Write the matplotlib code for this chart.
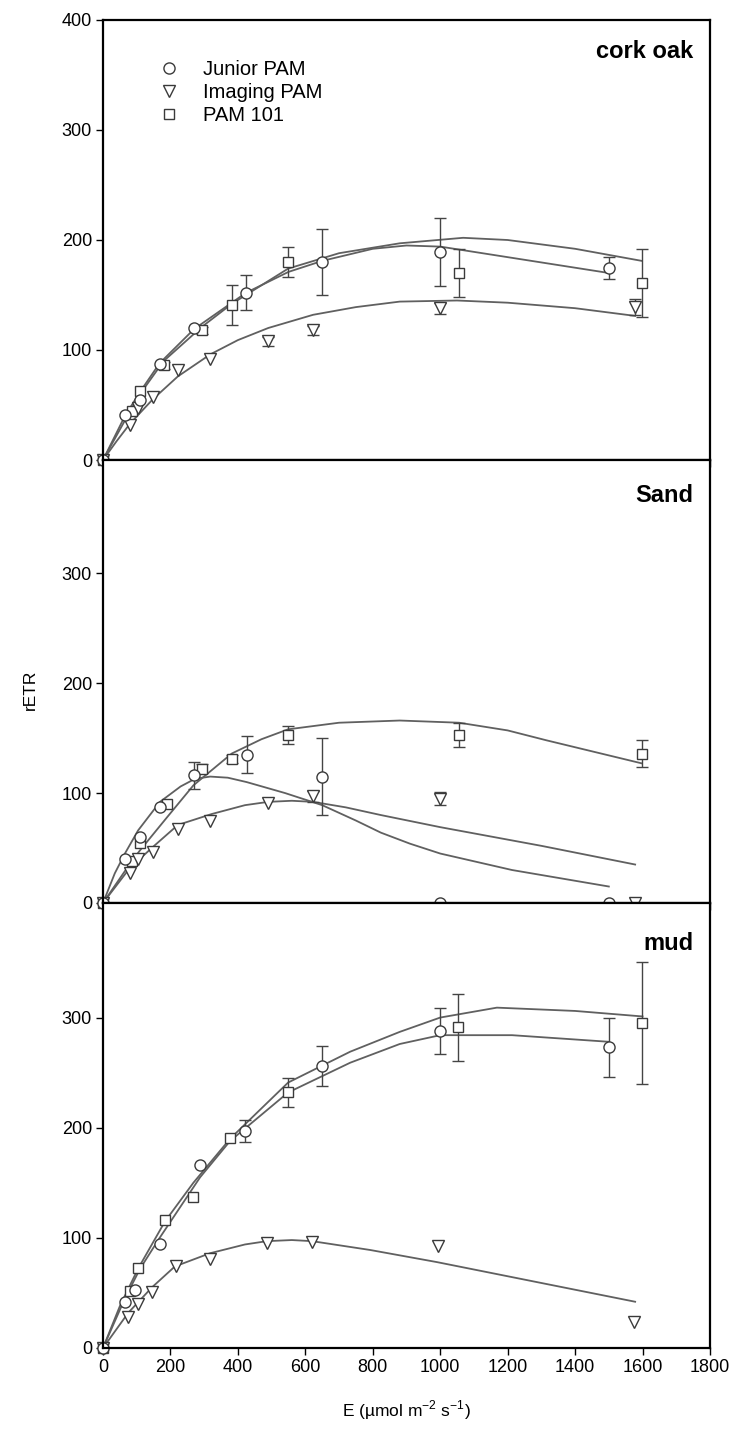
import matplotlib
matplotlib.use("Agg")
import matplotlib.pyplot as plt
from matplotlib.lines import Line2D

plt.rcParams['font.family'] = ['Liberation Sans', 'DejaVu Sans']
plt.rcParams['mathtext.fontset'] = 'custom'
plt.rcParams['mathtext.rm'] = 'Liberation Sans'

# ---------------- data: cork oak ----------------
oak_jp_x = [0, 65, 110, 168, 270, 424, 650, 1000, 1500]
oak_jp_y = [0, 41, 55, 87, 120, 152, 180, 189, 175]
oak_jp_e = [0, 0, 0, 0, 0, 16, 30, 31, 10]
oak_ip_x = [0, 80, 105, 147, 222, 318, 490, 623, 1000, 1578]
oak_ip_y = [0, 32, 47, 57, 82, 92, 108, 118, 138, 139]
oak_ip_e = [0, 0, 0, 0, 0, 0, 4, 4, 5, 7]
oak_pm_x = [0, 85, 110, 180, 293, 382, 549, 1055, 1598]
oak_pm_y = [0, 45, 63, 86, 118, 141, 180, 170, 161]
oak_pm_e = [0, 0, 0, 3, 3, 18, 14, 22, 31]
# fitted curves
oak_jp_fx = [0, 65, 110, 168, 270, 424, 550, 650, 800, 900, 1000, 1500]
oak_jp_fy = [0, 40, 62, 88, 119, 152, 171, 181, 192, 195, 194, 170]
oak_ip_fx = [0, 40, 80, 147, 222, 318, 400, 490, 623, 750, 880, 1050, 1200, 1400, 1578]
oak_ip_fy = [0, 17, 33, 55, 76, 96, 109, 120, 132, 139, 144, 145, 143, 138, 131]
oak_pm_fx = [0, 85, 110, 180, 293, 382, 549, 700, 880, 1068, 1200, 1400, 1598]
oak_pm_fy = [0, 47, 60, 90, 121, 142, 174, 188, 197, 202, 200, 192, 181]

# ---------------- data: Sand ----------------
sand_jp_x = [0, 65, 110, 168, 270, 426, 650, 1000, 1500]
sand_jp_y = [0, 40, 60, 87, 116, 135, 115, 0, 0]
sand_jp_e = [0, 0, 0, 0, 12, 17, 35, 0, 0]
sand_ip_x = [0, 80, 105, 147, 222, 318, 490, 623, 1000, 1578]
sand_ip_y = [0, 27, 40, 46, 67, 75, 91, 97, 95, 0]
sand_ip_e = [0, 0, 0, 0, 0, 0, 0, 5, 6, 0]
sand_pm_x = [0, 85, 110, 190, 293, 382, 549, 1055, 1598]
sand_pm_y = [0, 38, 55, 90, 122, 131, 153, 153, 136]
sand_pm_e = [0, 0, 0, 0, 4, 4, 8, 11, 12]
sand_jp_fx = [0, 35, 65, 104, 169, 230, 273, 318, 370, 426, 540, 650, 750, 824, 910, 1000, 1213, 1500]
sand_jp_fy = [0, 27, 45, 66, 92, 106, 113, 115, 114, 110, 100, 89, 75, 64, 54, 45, 30, 15]
sand_ip_fx = [0, 80, 148, 222, 323, 421, 490, 560, 623, 720, 824, 1000, 1300, 1578]
sand_ip_fy = [0, 32, 51, 71, 81, 89, 92, 93, 92, 87, 80, 69, 52, 35]
sand_pm_fx = [0, 85, 110, 190, 268, 382, 470, 549, 700, 880, 1056, 1200, 1315, 1598]
sand_pm_fy = [0, 38, 48, 78, 107, 136, 149, 158, 164, 166, 164, 157, 148, 127]

# ---------------- data: mud ----------------
mud_jp_x = [0, 65, 95, 168, 288, 421, 650, 1000, 1500]
mud_jp_y = [0, 42, 53, 94, 166, 197, 256, 288, 273]
mud_jp_e = [0, 0, 0, 0, 0, 10, 18, 21, 27]
mud_ip_x = [0, 75, 105, 145, 217, 317, 486, 620, 992, 1575]
mud_ip_y = [0, 28, 40, 51, 74, 81, 95, 96, 93, 24]
mud_ip_e = [0, 0, 0, 0, 0, 0, 0, 0, 0, 0]
mud_pm_x = [0, 80, 104, 184, 268, 377, 549, 1052, 1598]
mud_pm_y = [0, 52, 73, 116, 137, 191, 232, 291, 295]
mud_pm_e = [0, 0, 0, 0, 0, 0, 13, 30, 55]
mud_jp_fx = [0, 65, 110, 168, 288, 377, 549, 733, 880, 1000, 1213, 1500]
mud_jp_fy = [0, 45, 72, 100, 155, 188, 232, 259, 276, 284, 284, 278]
mud_ip_fx = [0, 75, 145, 213, 317, 421, 486, 560, 620, 792, 990, 1578]
mud_ip_fy = [0, 32, 55, 74, 86, 94, 97, 98, 97, 89, 78, 42]
mud_pm_fx = [0, 50, 104, 184, 268, 377, 549, 733, 880, 1000, 1168, 1400, 1600]
mud_pm_fy = [0, 38, 72, 115, 150, 190, 241, 269, 287, 300, 309, 306, 301]

panel_names = ["cork oak", "Sand", "mud"]
legend_labels = ["Junior PAM", "Imaging PAM", "PAM 101"]
x_ticks = [0, 200, 400, 600, 800, 1000, 1200, 1400, 1600, 1800]

panels = [
    dict(jp=(oak_jp_x, oak_jp_y, oak_jp_e), ip=(oak_ip_x, oak_ip_y, oak_ip_e), pm=(oak_pm_x, oak_pm_y, oak_pm_e),
         fits=[(oak_jp_fx, oak_jp_fy), (oak_ip_fx, oak_ip_fy), (oak_pm_fx, oak_pm_fy)]),
    dict(jp=(sand_jp_x, sand_jp_y, sand_jp_e), ip=(sand_ip_x, sand_ip_y, sand_ip_e), pm=(sand_pm_x, sand_pm_y, sand_pm_e),
         fits=[(sand_jp_fx, sand_jp_fy), (sand_ip_fx, sand_ip_fy), (sand_pm_fx, sand_pm_fy)]),
    dict(jp=(mud_jp_x, mud_jp_y, mud_jp_e), ip=(mud_ip_x, mud_ip_y, mud_ip_e), pm=(mud_pm_x, mud_pm_y, mud_pm_e),
         fits=[(mud_jp_fx, mud_jp_fy), (mud_ip_fx, mud_ip_fy), (mud_pm_fx, mud_pm_fy)]),
]

W, H = 734, 1434
fig = plt.figure(figsize=(W / 100, H / 100), dpi=100)
left = 103 / W
width = 607 / W
rows = [(20, 460), (460, 903), (903, 1348)]
ylims = [400, 403, 404]
name_y = [0.955, 0.945, 0.935]

line_col = '#606060'
edge_col = '#3a3a3a'
markers = {'jp': ('o', 8.0), 'ip': ('v', 8.5), 'pm': ('s', 7.0)}

axes = []
for i, (t, b) in enumerate(rows):
    ax = fig.add_axes([left, 1 - b / H, width, (b - t) / H])
    axes.append(ax)
    p = panels[i]
    for fx, fy in p['fits']:
        ax.plot(fx, fy, color=line_col, lw=1.3, zorder=2, clip_on=False)
    for key in ['pm', 'ip', 'jp']:
        xs, ys, es = p[key]
        m, ms = markers[key]
        xe = [x for x, e in zip(xs, es) if e > 0]
        ye = [y for y, e in zip(ys, es) if e > 0]
        ee = [e for e in es if e > 0]
        if xe:
            ax.errorbar(xe, ye, yerr=ee, fmt='none', ecolor='#444444', elinewidth=1.0,
                        capsize=4.5, capthick=1.0, zorder=3)
        ax.plot(xs, ys, ls='none', marker=m, ms=ms, mfc='white', mec=edge_col, mew=1.0,
                zorder=4, clip_on=False)
    ax.set_xlim(0, 1800)
    ax.set_ylim(0, ylims[i])
    ax.set_xticks(x_ticks)
    if i == 0:
        ax.set_yticks([0, 100, 200, 300, 400])
    else:
        ax.set_yticks([0, 100, 200, 300])
    ax.tick_params(axis='both', direction='out', length=5, width=1.0, labelsize=13, colors='black', pad=3)
    ax.tick_params(axis='x', labelbottom=(i == 2))
    for s in ax.spines.values():
        s.set_linewidth(1.6)
        s.set_color('black')
        s.set_zorder(5)
    ax.text(0.972, name_y[i], panel_names[i], transform=ax.transAxes, ha='right', va='top',
            fontsize=17, fontweight='bold')

# legend in top panel
handles = [Line2D([], [], ls='none', marker=markers[k][0], ms=markers[k][1], mfc='white', mec=edge_col, mew=1.0)
           for k in ['jp', 'ip', 'pm']]
axes[0].legend(handles, legend_labels, loc='upper left', bbox_to_anchor=(0.065, 0.945), frameon=False,
               fontsize=14.5, handlelength=1.0, handletextpad=1.2, labelspacing=0.2, borderpad=0.3)

axes[2].set_xlabel('E (\u00b5mol m$^{-2}$ s$^{-1}$)', fontsize=12.5, labelpad=16)
fig.text(30 / W, 1 - 690 / H, 'rETR', rotation=90, ha='center', va='center', fontsize=12.5)

fig.savefig('out.png', dpi=100)
